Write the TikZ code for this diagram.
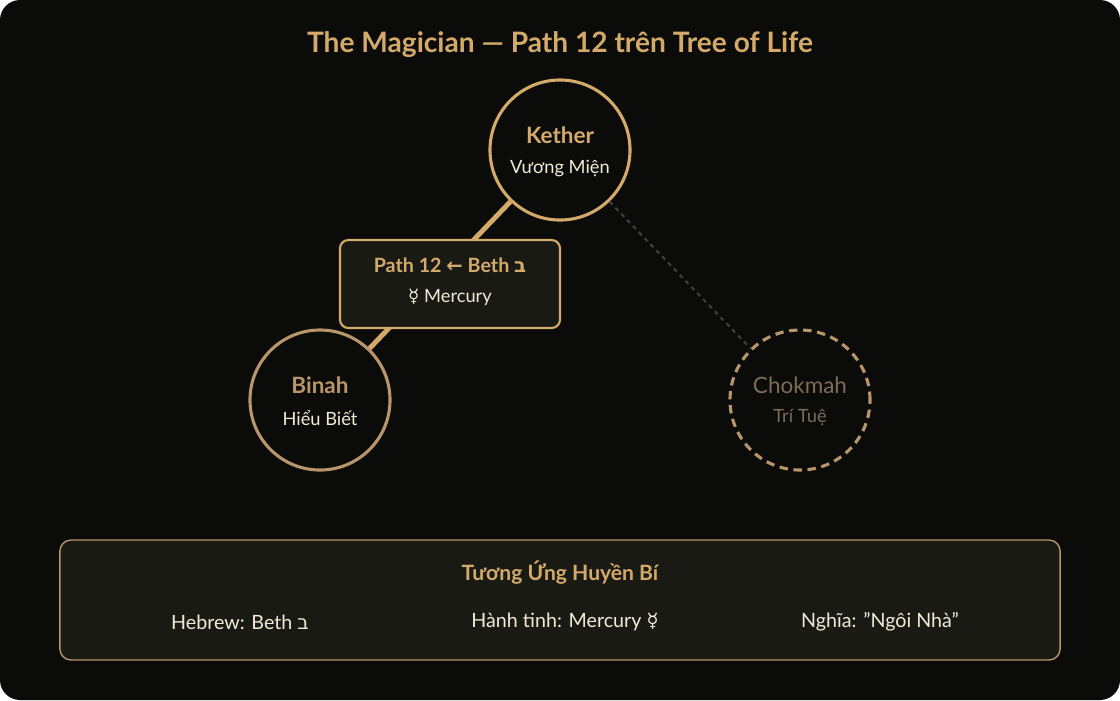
\documentclass[tikz,border=0pt]{standalone}
\usepackage{fontspec}
\setmainfont{Lato}
\newfontfamily\symfont{DejaVu Sans}
\usetikzlibrary{positioning}
\definecolor{bg}{HTML}{0B0B0A}
\definecolor{gold}{HTML}{D4AA6A}
\definecolor{tan}{HTML}{B8966A}
\definecolor{dim}{HTML}{7D6C58}
\definecolor{panel}{HTML}{1A1A15}
\definecolor{cream}{HTML}{F2EAD8}
\begin{document}
\begin{tikzpicture}[x=0.025cm,y=-0.025cm]
    \tikzstyle{sephira} = [circle,minimum size=3.5cm,line width=2.2pt,fill=bg]
    \tikzstyle{sephname} = [font=\bfseries\fontsize{16}{18}\selectfont]
    \tikzstyle{subtext} = [font=\fontsize{13}{15}\selectfont,text=cream]
    \tikzstyle{edge} = [line width=3.5pt,draw=gold]
    \tikzstyle{dedge} = [line width=1.5pt,dashed,draw=gray!45!bg]

    \fill[bg,rounded corners=0.5cm] (0,0) rectangle (1120,700);
    \useasboundingbox (0,0) rectangle (1120,700);

    \node[font=\bfseries\fontsize{20}{24}\selectfont,text=gold] (title) at (560,45) {The Magician — Path 12 trên Tree of Life};

    % sephiroth
    \node[sephira,draw=gold] (kether) at (560,150) {};
    \node[sephira,draw=tan] (binah) at (320,400) {};
    \node[sephira,draw=tan,dashed,dash pattern=on 6pt off 4pt] (chokmah) at (800,400) {};

    % paths
    \draw[dedge] (kether) -- (chokmah);
    \draw[edge] (kether) -- (binah);

    \node[sephname,text=gold] (kether name) at (560,135) {Kether};
    \node[subtext] (kether sub) at (560,168) {Vương Miện};
    \node[sephname,text=tan] (binah name) at (320,385) {Binah};
    \node[subtext] (binah sub) at (320,418) {Hiểu Biết};
    \node[sephname,text=dim,font=\fontsize{16}{18}\selectfont] (chokmah name) at (800,385) {Chokmah};
    \node[subtext,text=dim] (chokmah sub) at (800,418) {Trí Tuệ};

    % path label
    \node[draw=gold,line width=1.5pt,fill=panel,rounded corners=6pt,minimum width=5.5cm,minimum height=2.2cm] (path box) at (450,284) {};
    \node[sephname,text=gold,font=\bfseries\fontsize{14}{16}\selectfont] (path name) at (450,265) {Path 12 {\symfont ←} Beth {\symfont ב}};
    \node[subtext] (path sub) at (450,297) {{\symfont ☿} Mercury};

    % correspondences
    \node[draw=tan,line width=1pt,fill=panel,rounded corners=8pt,minimum width=25cm,minimum height=3cm] (panel box) at (560,600) {};
    \node[sephname,text=gold,font=\bfseries\fontsize{15}{18}\selectfont] (panel title) at (560,573) {Tương Ứng Huyền Bí};
    \node[subtext,font=\fontsize{14}{16}\selectfont] (hebrew) at (240,622) {Hebrew: Beth {\symfont ב}};
    \node[subtext,font=\fontsize{14}{16}\selectfont] (planet) at (565,622) {Hành tinh: Mercury {\symfont ☿}};
    \node[subtext,font=\fontsize{14}{16}\selectfont] (meaning) at (880,622) {Nghĩa: "Ngôi Nhà"};
\end{tikzpicture}
\end{document}
